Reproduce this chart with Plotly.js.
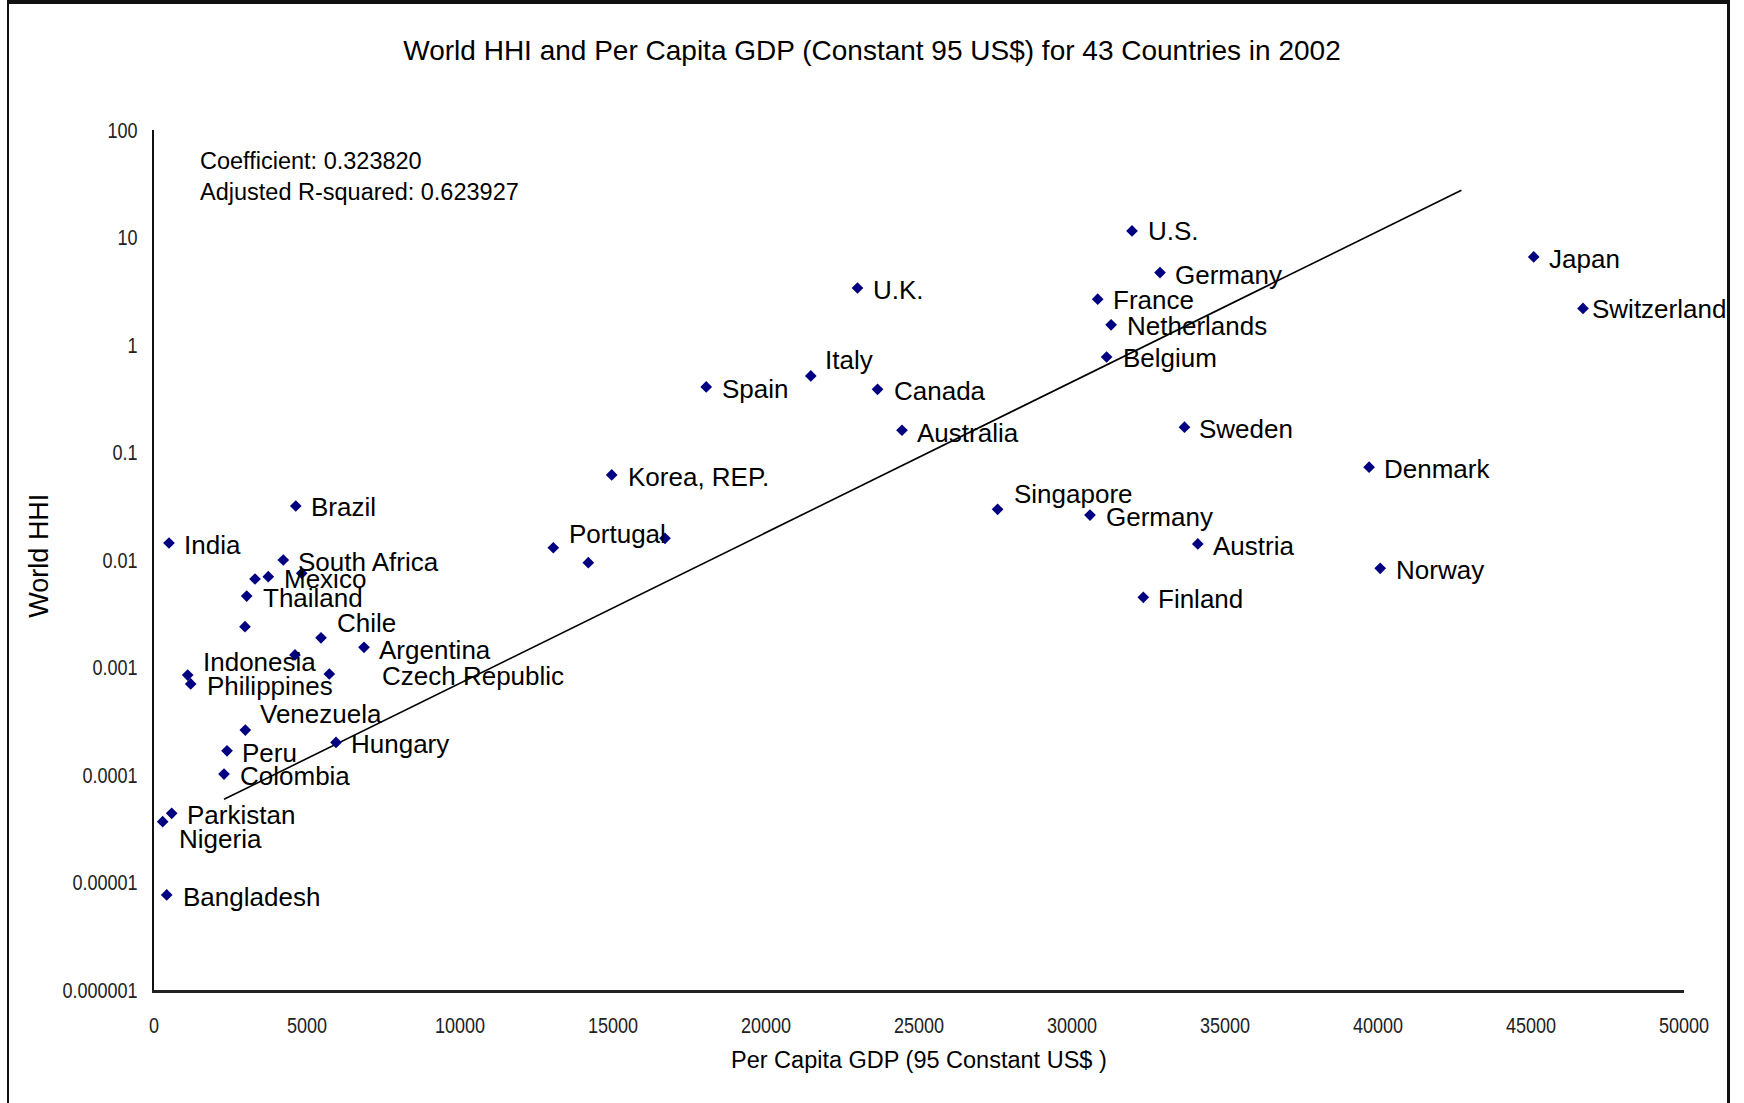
<!DOCTYPE html>
<html>
<head>
<meta charset="utf-8">
<script src="https://cdn.plot.ly/plotly-3.0.1.min.js"></script>
<style>
  html, body { margin: 0; padding: 0; background: #fff; }
  #wrap { position: relative; width: 1744px; height: 1103px; overflow: hidden; }
  #frame { position: absolute; left: 7px; top: 0px; width: 1723px; height: 1120px;
           border-top: 4px solid #111; border-left: 2px solid #111; border-right: 3px solid #111;
           box-sizing: border-box; pointer-events: none; z-index: 5; }
  #chart { position: absolute; left: 0; top: 0; width: 1744px; height: 1103px; }
</style>
</head>
<body>
<div id="wrap">
  <div id="chart"></div>
  <div id="frame"></div>
</div>
<script>
// ---- data ----
const countries = ["U.S.","Germany","U.K.","France","Netherlands","Belgium","Japan","Switzerland",
  "Italy","Spain","Canada","Australia","Sweden","Denmark","Korea, REP.","Singapore","Germany",
  "Austria","Norway","Finland","Brazil","India","Portugal","","","South Africa","","Mexico","",
  "Thailand","","Chile","Argentina","","Czech Republic","Indonesia","Philippines","Venezuela",
  "Hungary","Peru","Colombia","Parkistan","Nigeria","Bangladesh"];
const gdp = [31961,32876,22990,30840,31278,31131,45088,46699,21464,18046,23645,24444,33676,39709,
  14958,27569,30588,34111,40072,32330,4634,490,13049,14193,16699,4225,3301,3735,4827,3029,2974,
  5458,6863,4608,5729,1101,1199,2984,5948,2386,2288,578,284,415];
const hhi = [11.5,4.72,3.39,2.67,1.54,0.773,6.6,2.19,0.516,0.407,0.387,0.161,0.172,0.0731,0.0619,
  0.0296,0.0262,0.0141,0.00837,0.0045,0.0318,0.0144,0.0130,0.00944,0.0159,0.0100,0.00666,0.0070,
  0.00752,0.00462,0.0024,0.00189,0.00154,0.00131,0.00087,0.000851,0.000703,0.000262,0.000201,
  0.000168,0.000102,0.000044,0.0000368,0.00000766];
const trendGdp = [2288, 42725];
const trendHhi = [5.94e-5, 27.5];
const yTickVals = [1e-6,1e-5,1e-4,1e-3,1e-2,1e-1,1,10,100];
const yTickText = ["0.000001","0.00001","0.0001","0.001","0.01","0.1","1","10","100"];
const xTickVals = [0,5000,10000,15000,20000,25000,30000,35000,40000,45000,50000];
const xTickText = ["0","5000","10000","15000","20000","25000","30000","35000","40000","45000","50000"];
const statLines = ["Coefficient: 0.323820", "Adjusted R-squared: 0.623927"];
const chartTitle = "World HHI and Per Capita GDP (Constant 95 US$) for 43 Countries in 2002";
const xTitle = "Per Capita GDP (95 Constant US$ )";
const yTitle = "World HHI";

// ---- label offsets (pixels, right / down from the marker) ----
const labelDx = [17,16,17,16,17,17,16,10,15,17,17,16,16,16,17,17,17,16,17,16,16,16,17,0,0,16,0,17,0,17,0,17,16,0,54,16,17,16,16,16,17,16,17,17];
const labelDy = [0,2,2,1,1,1,2,1,-16,2,2,3,2,2,2,-15,2,2,2,2,1,2,-14,0,0,2,0,2,0,2,0,-15,3,0,2,-13,2,-16,2,2,2,2,17,2];

const sans = "Liberation Sans, Arial, sans-serif";
const labelFont = {family: sans, size: 26, color: "#000"};
const tickFont = {family: sans, size: 22, color: "#222"};

const annotations = [];
countries.forEach((c, i) => {
  if (!c) return;
  annotations.push({
    x: gdp[i], y: Math.log10(hhi[i]), xref: "x", yref: "y",
    text: c, showarrow: false, xanchor: "left", yanchor: "middle",
    xshift: labelDx[i] - 3, yshift: -labelDy[i], font: labelFont
  });
});
statLines.forEach((t, i) => {
  annotations.push({
    x: 0.029, y: [0.964, 0.928][i], xref: "paper", yref: "paper",
    text: t, showarrow: false, xanchor: "left", yanchor: "middle",
    font: {family: sans, size: 23.5, color: "#000"}
  });
});
annotations.push({
  x: 0.5, y: -0.0814, xref: "paper", yref: "paper", text: xTitle, showarrow: false,
  xanchor: "center", yanchor: "middle", font: {family: sans, size: 23.5, color: "#000"}
});
annotations.push({
  x: -0.0752, y: 0.505, xref: "paper", yref: "paper", text: yTitle, showarrow: false,
  textangle: -90, xanchor: "center", yanchor: "middle", font: {family: sans, size: 27, color: "#000"}
});

const traces = [
  {
    x: trendGdp, y: trendHhi, mode: "lines", type: "scatter",
    line: {color: "#000", width: 1.6}, hoverinfo: "skip", showlegend: false
  },
  {
    x: gdp, y: hhi, text: countries, mode: "markers", type: "scatter",
    marker: {symbol: "diamond", size: 9, color: "#000080", line: {width: 0}},
    showlegend: false
  }
];

const layout = {
  width: 1744, height: 1103,
  margin: {l: 154, r: 60, t: 130, b: 113, pad: 0},
  paper_bgcolor: "#fff", plot_bgcolor: "#fff",
  showlegend: false,
  title: {
    text: chartTitle,
    font: {family: sans, size: 28, color: "#000"},
    x: 0.5, xref: "container", xanchor: "center",
    y: 1 - 50/1103, yref: "container", yanchor: "middle"
  },
  xaxis: {
    range: [0, 50000], showgrid: false, zeroline: false,
    showline: true, linecolor: "#222", linewidth: 3, mirror: false,
    ticks: "", tickvals: xTickVals, ticktext: xTickText, tickfont: tickFont,
    ticklabelstandoff: 14, automargin: false
  },
  yaxis: {
    type: "log", range: [-6, 2], showgrid: false, zeroline: false,
    showline: true, linecolor: "#111", linewidth: 2,
    ticks: "", tickvals: yTickVals, ticktext: yTickText, tickfont: tickFont,
    ticklabelstandoff: 10, automargin: false
  },
  annotations: annotations
};

Plotly.newPlot("chart", traces, layout, {displayModeBar: false, staticPlot: true}).then(gd => {
  // narrow the tick labels horizontally (the reference uses a condensed face)
  gd.querySelectorAll(".xtick text, .ytick text").forEach(t => {
    const x = parseFloat(t.getAttribute("x")) || 0;
    const prev = t.getAttribute("transform") || "";
    t.setAttribute("transform", prev + " translate(" + x + ",0) scale(0.82,1) translate(" + (-x) + ",0)");
  });
});
</script>
</body>
</html>
